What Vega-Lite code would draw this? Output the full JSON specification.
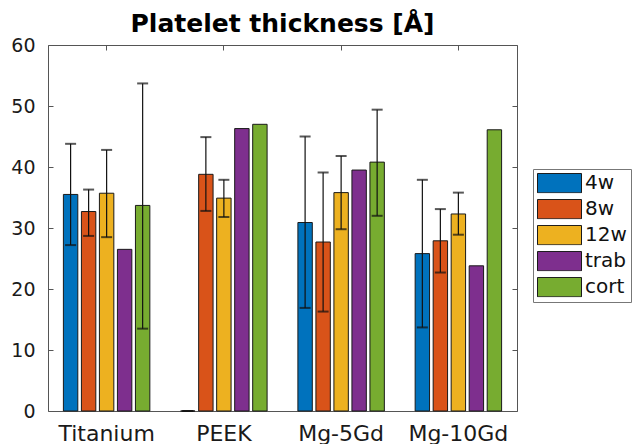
{
  "$schema": "https://vega.github.io/schema/vega-lite/v6.json",
  "autosize": "none",
  "padding": {"left": 48, "top": 45, "right": 116, "bottom": 33},
  "width": 469,
  "height": 366,
  "background": "white",
  "title": {"text": "Platelet thickness [Å]", "font": "DejaVu Sans", "fontSize": 25, "fontWeight": "bold", "color": "black", "frame": "group", "anchor": "middle", "baseline": "alphabetic", "offset": 12, "dy": 33},
  "config": {
    "view": {"stroke": "#555", "strokeWidth": 1},
    "font": "DejaVu Sans"
  },
  "data": {"values": [
    {"material": "Titanium", "series": "4w", "value": 35.5, "lo": 27.2, "hi": 43.8},
    {"material": "Titanium", "series": "8w", "value": 32.7, "lo": 28.7, "hi": 36.3},
    {"material": "Titanium", "series": "12w", "value": 35.7, "lo": 28.5, "hi": 42.8},
    {"material": "Titanium", "series": "trab", "value": 26.5, "lo": null, "hi": null},
    {"material": "Titanium", "series": "cort", "value": 33.7, "lo": 13.5, "hi": 53.7},
    {"material": "PEEK", "series": "4w", "value": 0, "lo": 0, "hi": 0},
    {"material": "PEEK", "series": "8w", "value": 38.8, "lo": 32.8, "hi": 44.9},
    {"material": "PEEK", "series": "12w", "value": 34.9, "lo": 31.8, "hi": 37.9},
    {"material": "PEEK", "series": "trab", "value": 46.3, "lo": null, "hi": null},
    {"material": "PEEK", "series": "cort", "value": 47.0, "lo": null, "hi": null},
    {"material": "Mg-5Gd", "series": "4w", "value": 30.9, "lo": 16.9, "hi": 45.0},
    {"material": "Mg-5Gd", "series": "8w", "value": 27.7, "lo": 16.3, "hi": 39.1},
    {"material": "Mg-5Gd", "series": "12w", "value": 35.8, "lo": 29.8, "hi": 41.8},
    {"material": "Mg-5Gd", "series": "trab", "value": 39.5, "lo": null, "hi": null},
    {"material": "Mg-5Gd", "series": "cort", "value": 40.8, "lo": 32.0, "hi": 49.4},
    {"material": "Mg-10Gd", "series": "4w", "value": 25.8, "lo": 13.7, "hi": 37.9},
    {"material": "Mg-10Gd", "series": "8w", "value": 27.9, "lo": 22.7, "hi": 33.1},
    {"material": "Mg-10Gd", "series": "12w", "value": 32.3, "lo": 28.9, "hi": 35.8},
    {"material": "Mg-10Gd", "series": "trab", "value": 23.8, "lo": null, "hi": null},
    {"material": "Mg-10Gd", "series": "cort", "value": 46.1, "lo": null, "hi": null}
  ]},
  "encoding": {
    "x": {"field": "material", "type": "nominal", "sort": ["Titanium", "PEEK", "Mg-5Gd", "Mg-10Gd"],
      "scale": {"paddingInner": 0.232, "paddingOuter": 0.116}},
    "xOffset": {"field": "series", "type": "nominal", "sort": ["4w", "8w", "12w", "trab", "cort"],
      "scale": {"paddingInner": 0.2, "paddingOuter": 0.1}}
  },
  "layer": [
    {
      "mark": {"type": "bar", "stroke": "#1a1a1a", "strokeWidth": 1},
      "encoding": {
        "x": {"field": "material", "type": "nominal", "sort": ["Titanium", "PEEK", "Mg-5Gd", "Mg-10Gd"],
          "scale": {"paddingInner": 0.232, "paddingOuter": 0.116},
          "axis": {"orient": "bottom", "title": null, "labelAngle": 0, "labelFont": "DejaVu Sans", "labelFontSize": 22, "labelColor": "#1a1a1a", "tickSize": -5, "tickColor": "#555", "labelPadding": 17, "domain": false}},
        "y": {"field": "value", "type": "quantitative", "scale": {"domain": [0, 60], "nice": false},
          "axis": {"orient": "left", "title": null, "values": [0, 10, 20, 30, 40, 50, 60], "grid": false, "domain": false, "labelFont": "DejaVu Sans", "labelFontSize": 19, "labelColor": "#1a1a1a", "tickSize": -5, "tickColor": "#555", "labelPadding": 18}},
        "color": {"field": "series", "type": "nominal", "sort": ["4w", "8w", "12w", "trab", "cort"],
          "scale": {"domain": ["4w", "8w", "12w", "trab", "cort"], "range": ["#0072BD", "#D95319", "#EDB120", "#7E2F8E", "#77AC30"]},
          "legend": {"title": null, "orient": "none", "legendX": 485, "legendY": 124, "direction": "vertical",
            "symbolType": "M-1,-0.44H1V0.44H-1Z", "symbolSize": 1936, "symbolStrokeColor": "#1a1a1a", "symbolStrokeWidth": 1,
            "clipHeight": 20.3, "rowPadding": 5, "labelFont": "DejaVu Sans", "labelFontSize": 20, "labelColor": "#111", "labelOffset": 3,
            "padding": 4, "strokeColor": "#777", "fillColor": "white"}}
      }
    },
    {
      "transform": [{"filter": "datum.lo != null"}],
      "mark": {"type": "rule", "color": "#111", "strokeWidth": 1.2},
      "encoding": {
        "x": {"field": "material", "type": "nominal", "sort": ["Titanium", "PEEK", "Mg-5Gd", "Mg-10Gd"],
          "axis": {"orient": "top", "title": null, "labels": false, "tickSize": -5, "tickColor": "#555", "domain": false}},
        "y": {"field": "lo", "type": "quantitative",
          "axis": {"orient": "right", "title": null, "labels": false, "values": [0, 10, 20, 30, 40, 50, 60], "grid": false, "domain": false, "tickSize": -5, "tickColor": "#555"}},
        "y2": {"field": "hi"}
      }
    },
    {
      "transform": [{"filter": "datum.lo != null"}],
      "mark": {"type": "tick", "orient": "horizontal", "color": "#111", "size": 11, "thickness": 2},
      "encoding": {
        "x": {"field": "material", "type": "nominal", "sort": ["Titanium", "PEEK", "Mg-5Gd", "Mg-10Gd"], "axis": null},
        "y": {"field": "lo", "type": "quantitative", "axis": null}
      }
    },
    {
      "transform": [{"filter": "datum.hi != null"}],
      "mark": {"type": "tick", "orient": "horizontal", "color": "#111", "size": 11, "thickness": 2},
      "encoding": {
        "x": {"field": "material", "type": "nominal", "sort": ["Titanium", "PEEK", "Mg-5Gd", "Mg-10Gd"], "axis": null},
        "y": {"field": "hi", "type": "quantitative", "axis": null}
      }
    }
  ],
  "resolve": {"axis": {"x": "independent", "y": "independent"}}
}
